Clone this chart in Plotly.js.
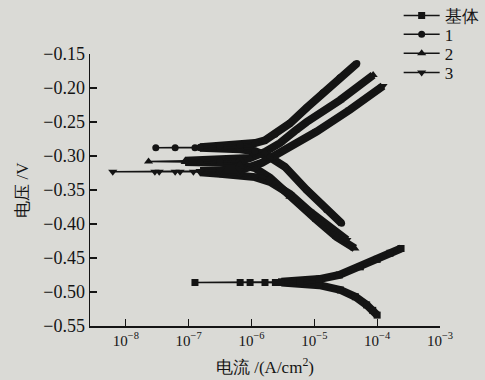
<!DOCTYPE html>
<html>
<head>
<meta charset="utf-8">
<script src="https://cdn.plot.ly/plotly-3.0.1.min.js"></script>
<style>
html,body{margin:0;padding:0;background:#dadad6;}
#chart{width:485px;height:380px;}
</style>
</head>
<body>
<div id="chart"></div>
<script>
// ---- Data (current density in A/cm2, potential in V) ----
const seriesNames = ['基体', '1', '2', '3'];

// 基体 (substrate)
const I_base_cath = [1.0e-4, 8.5e-5, 6.8e-5, 4.5e-5, 2.6e-5, 1.2e-5, 6.0e-6, 3.0e-6];
const E_base_cath = [-0.534, -0.527, -0.519, -0.507, -0.497, -0.490, -0.487, -0.486];
const I_base_tail = [2.4e-6, 1.64e-6, 9.5e-7, 6.6e-7, 1.26e-7];
const E_base_tail = [-0.486, -0.486, -0.486, -0.486, -0.486];
const I_base_anod = [3.0e-6, 6.0e-6, 1.2e-5, 2.5e-5, 5.4e-5, 1.0e-4, 1.6e-4, 2.4e-4];
const E_base_anod = [-0.485, -0.484, -0.481, -0.475, -0.463, -0.452, -0.443, -0.436];

// 1
const I1_cath = [2.72e-5, 1.57e-5, 7.55e-6, 3.41e-6, 1.97e-6, 1.14e-6, 6.56e-7, 3.15e-7, 1.52e-7];
const E1_cath = [-0.399, -0.379, -0.350, -0.316, -0.302, -0.293, -0.290, -0.289, -0.288];
const I1_tail = [1.26e-7, 6.1e-8, 3.0e-8];
const E1_tail = [-0.288, -0.288, -0.288];
const I1_anod = [1.52e-7, 3.15e-7, 6.56e-7, 1.14e-6, 1.64e-6, 2.37e-6, 4.09e-6, 7.55e-6, 1.37e-5, 2.55e-5, 4.75e-5];
const E1_anod = [-0.287, -0.285, -0.284, -0.281, -0.277, -0.268, -0.252, -0.229, -0.207, -0.185, -0.164];

// 2
const I2_cath = [4.42e-5, 2.26e-5, 1.09e-5, 4.09e-6, 1.97e-6, 1.14e-6, 6.56e-7, 3.15e-7, 1.52e-7, 8.8e-8];
const E2_cath = [-0.436, -0.419, -0.394, -0.360, -0.332, -0.318, -0.312, -0.310, -0.309, -0.309];
const I2_tail = [2.3e-8];
const E2_tail = [-0.308];
const I2_anod = [8.8e-8, 3.15e-7, 6.56e-7, 9.46e-7, 1.64e-6, 2.84e-6, 4.92e-6, 7.55e-6, 2.55e-5, 8.63e-5];
const E2_anod = [-0.307, -0.306, -0.304, -0.303, -0.294, -0.281, -0.263, -0.250, -0.218, -0.181];

// 3
const I3_cath = [3.30e-5, 1.77e-5, 8.51e-6, 4.09e-6, 1.97e-6, 1.14e-6, 6.56e-7, 3.15e-7, 1.52e-7];
const E3_cath = [-0.4235, -0.406, -0.382, -0.356, -0.338, -0.331, -0.328, -0.326, -0.324];
const I3_tail = [1.19e-7, 7.3e-8, 6.1e-8, 3.4e-8, 2.9e-8, 6.2e-9];
const E3_tail = [-0.323, -0.323, -0.323, -0.323, -0.323, -0.323];
const I3_anod = [1.52e-7, 3.15e-7, 6.56e-7, 1.47e-6, 3.17e-6, 5.90e-6, 1.09e-5, 3.68e-5, 1.24e-4];
const E3_anod = [-0.322, -0.321, -0.321, -0.310, -0.293, -0.278, -0.264, -0.232, -0.197];

const xTickVals = [1e-8, 1e-7, 1e-6, 1e-5, 1e-4, 1e-3];
const xTickText = ['10<sup>−8</sup>', '10<sup>−7</sup>', '10<sup>−6</sup>', '10<sup>−5</sup>', '10<sup>−4</sup>', '10<sup>−3</sup>'];
const yTickVals = [-0.55, -0.50, -0.45, -0.40, -0.35, -0.30, -0.25, -0.20, -0.15];
const yTickText = ['−0.55', '−0.50', '−0.45', '−0.40', '−0.35', '−0.30', '−0.25', '−0.20', '−0.15'];

// ---- Build traces ----
const INK = '#141414';
const SERIF = 'Liberation Serif';
const series = [
  {name: seriesNames[0], sym: 'square', size: 7, c: [I_base_cath, E_base_cath], t: [I_base_tail, E_base_tail], a: [I_base_anod, E_base_anod]},
  {name: seriesNames[1], sym: 'circle', size: 7, c: [I1_cath, E1_cath], t: [I1_tail, E1_tail], a: [I1_anod, E1_anod]},
  {name: seriesNames[2], sym: 'triangle-up', size: 8, c: [I2_cath, E2_cath], t: [I2_tail, E2_tail], a: [I2_anod, E2_anod]},
  {name: seriesNames[3], sym: 'triangle-down', size: 8, c: [I3_cath, E3_cath], t: [I3_tail, E3_tail], a: [I3_anod, E3_anod]}
];

const traces = [];
series.forEach(s => {
  [s.c, s.a].forEach(br => {
    traces.push({x: br[0], y: br[1], type: 'scatter', mode: 'lines',
      line: {color: INK, width: 8}, showlegend: false, hoverinfo: 'skip'});
  });
});
series.forEach((s, k) => {
  traces.push({
    x: s.c[0].concat(s.t[0], s.a[0]),
    y: s.c[1].concat(s.t[1], s.a[1]),
    type: 'scatter', mode: 'lines+markers', name: s.name,
    legend: k === 0 ? 'legend' : 'legend' + (k + 1),
    line: {color: INK, width: 1.5},
    marker: {symbol: s.sym, size: s.size, color: INK}
  });
});

// legend positions in container (figure) fractions
function leg(yc) {
  return {xref: 'container', yref: 'container', x: 0.822, xanchor: 'left', y: yc, yanchor: 'middle',
    bgcolor: 'rgba(0,0,0,0)', borderwidth: 0, itemwidth: 36,
    font: {family: SERIF, size: 17, color: INK}};
}

const layout = {
  width: 485, height: 380,
  margin: {l: 90, r: 45, t: 54, b: 54, autoexpand: false},
  paper_bgcolor: '#dadad6', plot_bgcolor: '#dadad6',
  font: {family: SERIF, color: INK},
  legend: leg(0.958), legend2: leg(0.909), legend3: leg(0.859), legend4: leg(0.808),
  xaxis: {
    type: 'log', range: [-8.57, -3], tickvals: xTickVals, ticktext: xTickText,
    ticks: 'inside', ticklen: 7, tickwidth: 1.3, tickcolor: INK,
    showline: true, linecolor: INK, linewidth: 1.5, mirror: false,
    showgrid: false, zeroline: false, automargin: false,
    tickfont: {family: SERIF, size: 15, color: INK},
    title: {text: '电流 /(A/cm<sup>2</sup>)', font: {family: SERIF, size: 17, color: INK}, standoff: 13}
  },
  yaxis: {
    range: [-0.55, -0.15], tickvals: yTickVals, ticktext: yTickText,
    ticks: 'inside', ticklen: 7, tickwidth: 1.3, tickcolor: INK,
    showline: true, linecolor: INK, linewidth: 1.5, mirror: false,
    showgrid: false, zeroline: false, automargin: false,
    tickfont: {family: SERIF, size: 18, color: INK},
    title: {text: '电压 /V', font: {family: SERIF, size: 17, color: INK}, standoff: 10}
  }
};

Plotly.newPlot('chart', traces, layout, {displayModeBar: false, staticPlot: true});
</script>
</body>
</html>
